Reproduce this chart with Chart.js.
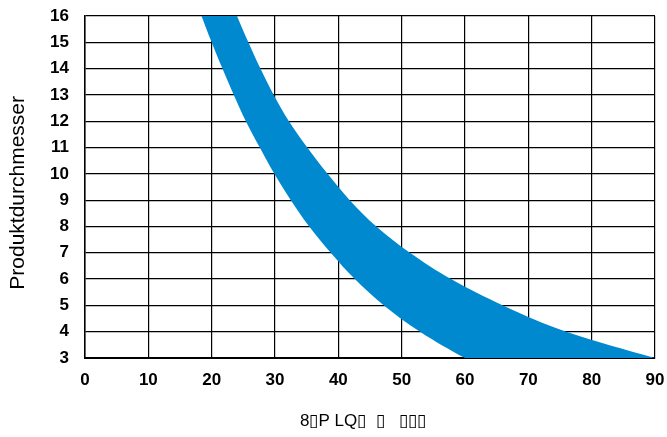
<!DOCTYPE html>
<html>
<head>
<meta charset="utf-8">
<script src="https://cdn.jsdelivr.net/npm/chart.js@4/dist/chart.umd.min.js"></script>
<style>
  html, body { margin: 0; padding: 0; background: #fff; }
  #wrap { width: 667px; height: 437px; }
</style>
</head>
<body>
<div id="wrap"><canvas id="chart" width="667" height="437"></canvas></div>
<script>
// Lower edge of the operating band (diameter -> speed), top to bottom
const lowerX = [18.4, 20.0, 21.7, 23.5, 25.4, 27.6, 29.9, 32.5, 35.4, 38.8, 42.6, 47.2, 52.9, 60.0];
const lowerY = [16, 15, 14, 13, 12, 11, 10, 9, 8, 7, 6, 5, 4, 3];

// Upper edge of the operating band, top to bottom
const upperX = [24.0, 25.8, 27.7, 29.8, 32.2, 35.1, 38.3, 41.8, 46.0, 51.3, 57.8, 66.0, 76.0, 90.0];
const upperY = [16, 15, 14, 13, 12, 11, 10, 9, 8, 7, 6, 5, 4, 3];

// Outline points just beyond the plot edges; they close the band and are clipped away
const outsideTop = [[16.9, 17], [22.3, 17]];
const outsideBottom = [[68.5, 2], [105, 2]];

// Axis ticks
const xTicks = [0, 10, 20, 30, 40, 50, 60, 70, 80, 90];
const yTicks = [3, 4, 5, 6, 7, 8, 9, 10, 11, 12, 13, 14, 15, 16];

const yTitle = 'Produktdurchmesser  ';
const xTitle = '8\u25AFP LQ\u25AF  \u25AF   \u25AF\u25AF\u25AF   ';

// Closed outline: down the lower edge, across below the plot, up the upper edge
const outline = [];
outline.push({x: outsideTop[0][0], y: outsideTop[0][1]});
lowerX.forEach((x, i) => outline.push({x: x, y: lowerY[i]}));
outsideBottom.forEach(p => outline.push({x: p[0], y: p[1]}));
for (let i = upperX.length - 1; i >= 0; i--) outline.push({x: upperX[i], y: upperY[i]});
outline.push({x: outsideTop[1][0], y: outsideTop[1][1]});

const FONT = '"Liberation Sans", Arial, Helvetica, sans-serif';
const tickFont = {family: FONT, size: 17, weight: 'bold'};

// Keep the plot frame fixed: the axes reserve no extra room for edge labels
function noEdgePadding(s) {
  s.paddingLeft = 0; s.paddingRight = 0; s.paddingTop = 0; s.paddingBottom = 0;
}

new Chart(document.getElementById('chart'), {
  type: 'line',
  data: {
    datasets: [{
      data: outline,
      fill: 'shape',
      backgroundColor: 'rgb(0, 137, 207)',
      borderWidth: 0,
      borderColor: 'rgba(0,0,0,0)',
      pointRadius: 0,
      tension: 0.35
    }]
  },
  options: {
    responsive: false,
    animation: false,
    devicePixelRatio: 1,
    layout: {padding: {top: 16, right: 12, left: 0, bottom: 0}},
    elements: {line: {capBezierPoints: false}},
    plugins: {
      legend: {display: false},
      tooltip: {enabled: false}
    },
    scales: {
      x: {
        type: 'linear',
        min: xTicks[0],
        max: xTicks[xTicks.length - 1],
        z: 1,
        afterBuildTicks: s => { s.ticks = xTicks.map(v => ({value: v})); },
        afterFit: s => { s.height = 79; noEdgePadding(s); },
        ticks: {
          padding: 12,
          font: tickFont,
          color: '#000',
          maxRotation: 0,
          autoSkip: false
        },
        grid: {color: '#000', lineWidth: 1.2, drawTicks: false},
        border: {color: '#000', width: 2},
        title: {
          display: true,
          text: xTitle,
          font: {family: FONT, size: 17, weight: 'normal'},
          color: '#000',
          padding: {top: 4, bottom: 5}
        }
      },
      y: {
        type: 'linear',
        min: yTicks[0],
        max: yTicks[yTicks.length - 1],
        z: 1,
        afterBuildTicks: s => { s.ticks = yTicks.map(v => ({value: v})); },
        afterFit: s => { s.width = 85; noEdgePadding(s); },
        ticks: {
          padding: 16,
          font: tickFont,
          color: '#000',
          autoSkip: false
        },
        grid: {color: '#000', lineWidth: 1.2, drawTicks: false},
        border: {color: '#000', width: 1.5},
        title: {
          display: true,
          text: yTitle,
          font: {family: FONT, size: 21, weight: 'normal'},
          color: '#000',
          padding: {top: 6, bottom: 0}
        }
      }
    }
  }
});
</script>
</body>
</html>
